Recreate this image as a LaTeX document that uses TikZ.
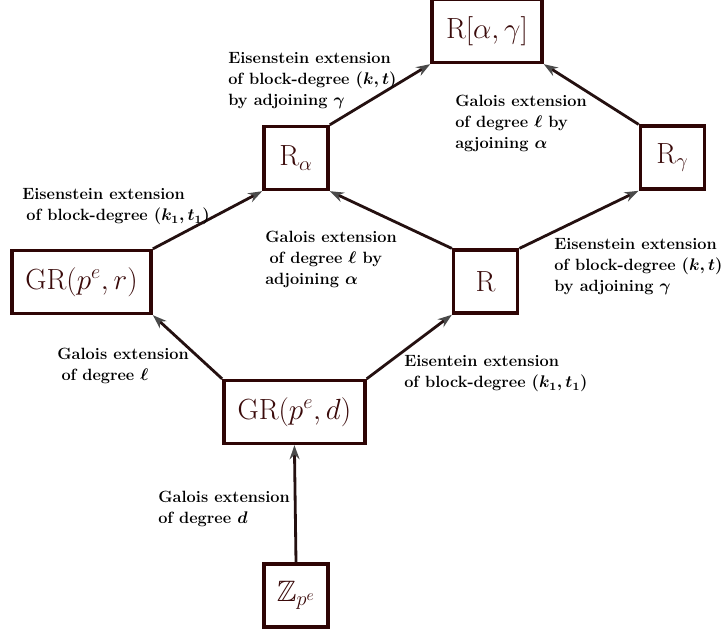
\documentclass[tikz,border=0pt]{standalone}
\usepackage{amsmath}
\usepackage{amssymb}
\usetikzlibrary{arrows.meta}

\definecolor{boxred}{HTML}{2E0505}
\definecolor{ringtext}{HTML}{3A0A0A}
\definecolor{edgebrown}{HTML}{241010}
\definecolor{tipgray}{HTML}{4A4A4A}

\tikzset{
    ring/.style={draw=boxred, line width=2.5pt, text=ringtext,
        font=\fontsize{21}{25}\selectfont, minimum width=1.6cm,
        minimum height=1.57cm, inner sep=2pt},
    ext/.style={draw=edgebrown, line width=2pt,
        -{Stealth[length=10pt,width=7pt,color=tipgray]}},
    note/.style={anchor=north west, align=left, inner sep=0pt,
        font=\fontsize{11.6}{15}\selectfont\bfseries\boldmath},
}

\begin{document}
\begin{tikzpicture}[yscale=-1]
    \useasboundingbox (0,0) rectangle (18.1,15.875);

    % Define the positions of the rings
    \coordinate (RagPos) at (12.175, 0.775);
    \coordinate (RaPos) at (7.4, 3.95);
    \coordinate (RgPos) at (16.81, 3.94);
    \coordinate (GRrPos) at (2.04, 7.05);
    \coordinate (RPos) at (12.14, 7.04);
    \coordinate (GRdPos) at (7.36, 10.3);
    \coordinate (ZPos) at (7.4, 14.89);

    % Draw the rings
    \node[ring, minimum width=2.75cm] (Rag) at (RagPos) {$\mathrm{R}[\alpha,\gamma]$};
    \node[ring] (Ra) at (RaPos) {$\mathrm{R}_{\alpha}$};
    \node[ring] (Rg) at (RgPos) {$\mathrm{R}_{\gamma}$};
    \node[ring, minimum width=3.475cm] (GRr) at (GRrPos) {$\mathrm{GR}(p^e,r)$};
    \node[ring] (R) at (RPos) {$\mathrm{R}$};
    \node[ring, minimum width=3.525cm] (GRd) at (GRdPos) {$\mathrm{GR}(p^e,d)$};
    \node[ring] (Z) at (ZPos) {$\mathbb{Z}_{p^e}$};

    % Draw the extensions
    \draw[ext] (Z.north) -- (GRd.south);
    \draw[ext] (GRd.north west) -- (GRr.south east);
    \draw[ext] (GRd.north east) -- (R.south west);
    \draw[ext] (GRr.north east) -- (Ra.south west);
    \draw[ext] (R.north west) -- (Ra.south east);
    \draw[ext] (R.north east) -- (Rg.south west);
    \draw[ext] (Ra.north east) -- (Rag.south west);
    \draw[ext] (Rg.north west) -- (Rag.south east);

    % Draw the labels
    \node[note] (eisKt) at (5.7, 1.3) {Eisenstein extension\\ of block-degree $(k,t)$\\ by adjoining $\gamma$};
    \node[note] (galAlphaTop) at (11.375, 2.375) {Galois extension\\ of degree $\ell$ by\\ agjoining $\alpha$};
    \node[note] (eisKtOne) at (0.55, 4.7) {Eisenstein extension\\ \hspace{3pt}of block-degree $(k_1,t_1)$};
    \node[note] (galAlpha) at (6.625, 5.775) {Galois extension\\ \hspace{3pt}of degree $\ell$ by\\ adjoining $\alpha$};
    \node[note] (eisKtRight) at (13.85, 5.95) {Eisenstein extension\\ of block-degree $(k,t)$\\ by adjoining $\gamma$};
    \node[note] (galEll) at (1.425, 8.7) {Galois extension\\ \hspace{3pt}of degree $\ell$};
    \node[note] (eisKtLow) at (10.1, 8.875) {Eisentein extension\\ of block-degree $(k_1,t_1)$};
    \node[note] (galD) at (3.95, 12.275) {Galois extension\\ of degree $d$};
\end{tikzpicture}
\end{document}
